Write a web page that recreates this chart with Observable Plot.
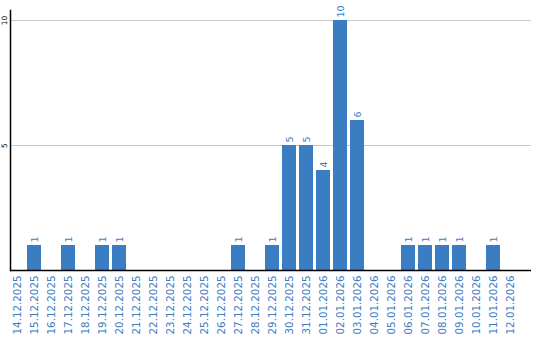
<!DOCTYPE html>
<html><head><meta charset="utf-8">
<script src="https://cdn.jsdelivr.net/npm/d3@7"></script>
<script src="https://cdn.jsdelivr.net/npm/@observablehq/plot@0.6"></script>
<style>body{margin:0;background:#fff;font-family:"DejaVu Sans",sans-serif}</style>
</head><body><div id="chart"></div>
<script>
const dates = ["14.12.2025","15.12.2025","16.12.2025","17.12.2025","18.12.2025","19.12.2025","20.12.2025","21.12.2025","22.12.2025","23.12.2025","24.12.2025","25.12.2025","26.12.2025","27.12.2025","28.12.2025","29.12.2025","30.12.2025","31.12.2025","01.01.2026","02.01.2026","03.01.2026","04.01.2026","05.01.2026","06.01.2026","07.01.2026","08.01.2026","09.01.2026","10.01.2026","11.01.2026","12.01.2026"];
const counts = [0,1,0,1,0,1,1,0,0,0,0,0,0,1,0,1,5,5,4,10,6,0,0,1,1,1,1,0,1,0];
const yTicks = [5,10];
const data = dates.map((d,i)=>({date:d, value:counts[i]}));
const blue = "#3b7dc3";
const chart = Plot.plot({
  width:540, height:340,
  marginLeft:10, marginRight:9, marginTop:10, marginBottom:70,
  style:{fontFamily:"DejaVu Sans, sans-serif", background:"#fff"},
  x:{domain:dates, range:[10,517], paddingInner:3/17, paddingOuter:0, align:0},
  y:{domain:[0,10.4], axis:null},
  marks:[
    Plot.ruleY(yTicks,{stroke:"#c8c8c8", strokeWidth:1}),
    Plot.barY(data.filter(d=>d.value>0),{x:"date", y:"value", fill:blue}),
    Plot.text(data.filter(d=>d.value>0),{x:"date", y:"value", text:d=>String(d.value), rotate:-90, textAnchor:"start", dy:-3, fill:blue, fontSize:9.5}),
    Plot.axisX({tickRotate:-90, tickSize:0, tickPadding:5, fill:blue, fontSize:10.3, label:null}),
    Plot.text(yTicks,{y:d=>d, text:d=>String(d), frameAnchor:"left", dx:-5.5, rotate:-90, textAnchor:"middle", fill:"#000", fontSize:7.5}),
    Plot.ruleY([0],{stroke:"#000", strokeWidth:1.5}),
    Plot.frame({anchor:"left", stroke:"#000", strokeWidth:1.5})
  ]
});
document.getElementById("chart").appendChild(chart);
</script></body></html>
